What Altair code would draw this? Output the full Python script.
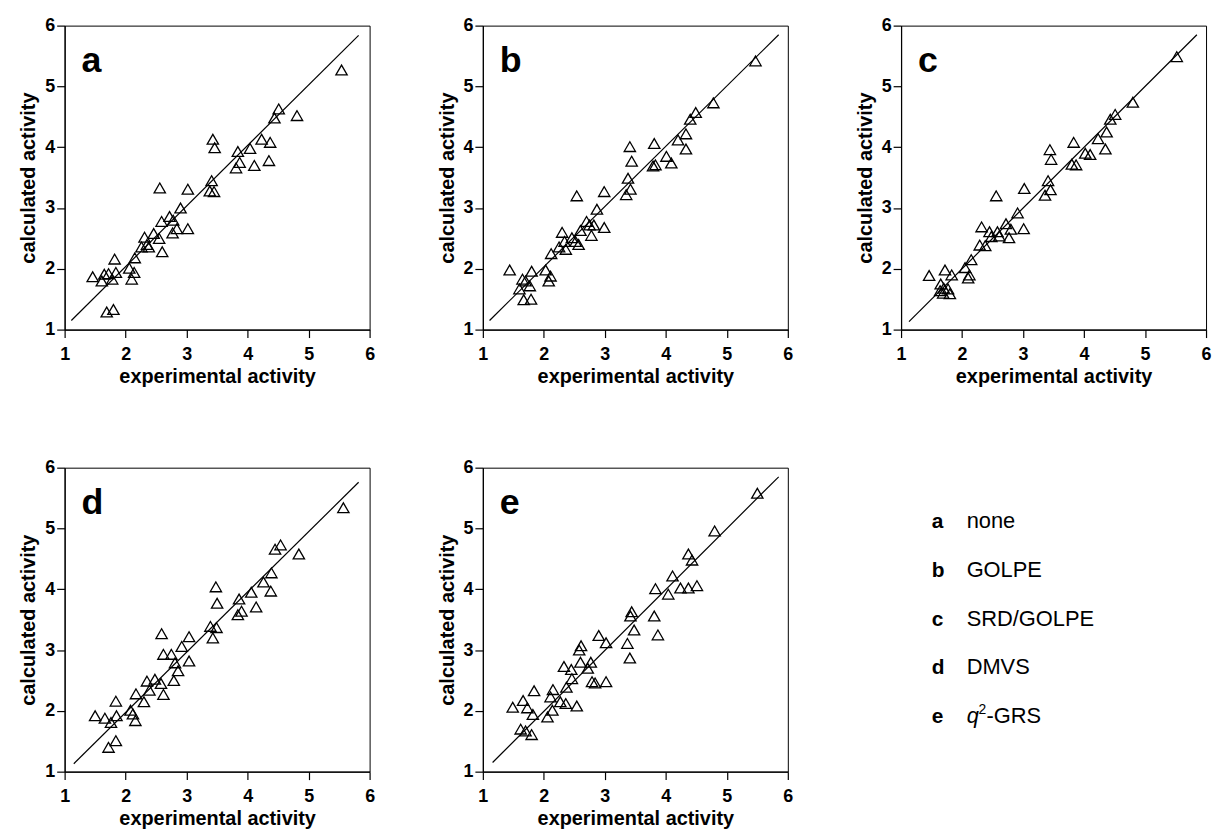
import altair as alt
import pandas as pd

FONT = "Liberation Sans"

# ---------------- data ----------------
panel_letters = ["a", "b", "c", "d", "e"]
legend_names = ["none", "GOLPE", "SRD/GOLPE", "DMVS"]
legend_e_parts = ["q", "2", "-GRS"]          # italic q, superscript 2, rest

tick_values = [1, 1.5, 2, 2.5, 3, 3.5, 4, 4.5, 5, 5.5, 6]

exp_a = [5.54, 4.51, 4.44, 4.81, 4.23, 4.37, 4.35, 4.04, 3.84, 3.87, 3.81, 4.11, 3.43, 3.46, 3.41,
         3.38, 3.45, 3.02, 2.56, 2.90, 2.72, 2.78, 2.59, 2.84, 2.77, 3.02, 2.46, 2.55, 2.31, 2.35,
         2.38, 2.26, 2.60, 2.15, 2.06, 2.14, 2.10, 1.82, 1.84, 1.72, 1.65, 1.78, 1.61, 1.46, 1.69, 1.80]
calc_a = [5.27, 4.63, 4.48, 4.52, 4.13, 4.08, 3.78, 3.98, 3.93, 3.75, 3.66, 3.70, 4.13, 3.99, 3.45,
          3.28, 3.27, 3.31, 3.33, 3.00, 2.86, 2.80, 2.78, 2.66, 2.59, 2.66, 2.58, 2.50, 2.52, 2.40,
          2.36, 2.36, 2.28, 2.18, 2.01, 1.94, 1.83, 2.16, 1.94, 1.92, 1.91, 1.83, 1.80, 1.87, 1.29, 1.33]

exp_b = [5.47, 4.78, 4.49, 4.40, 4.20, 4.33, 4.33, 4.01, 4.09, 3.81, 3.79, 3.83, 3.41, 3.44, 3.38,
         3.42, 3.35, 2.99, 2.54, 2.87, 2.70, 2.75, 2.82, 2.78, 2.99, 2.60, 2.30, 2.46, 2.34, 2.52,
         2.57, 2.25, 2.36, 2.12, 2.03, 2.11, 2.08, 1.44, 1.80, 1.65, 1.70, 1.77, 1.60, 1.67, 1.79]
calc_b = [5.42, 4.73, 4.57, 4.46, 4.12, 4.22, 3.97, 3.85, 3.74, 4.06, 3.69, 3.71, 4.01, 3.77, 3.49,
          3.31, 3.22, 3.27, 3.20, 2.98, 2.78, 2.72, 2.72, 2.55, 2.68, 2.63, 2.60, 2.51, 2.45, 2.45,
          2.40, 2.36, 2.32, 2.25, 1.98, 1.88, 1.80, 1.98, 1.96, 1.83, 1.80, 1.72, 1.67, 1.49, 1.50]

exp_c = [5.52, 4.80, 4.51, 4.43, 4.37, 4.23, 4.35, 4.02, 4.10, 3.83, 3.80, 3.87, 3.44, 3.46, 3.41,
         3.45, 3.36, 3.02, 2.56, 2.91, 2.72, 2.80, 3.01, 2.77, 2.58, 2.32, 2.45, 2.61, 2.29, 2.38,
         2.15, 2.05, 2.12, 2.10, 1.46, 1.72, 1.83, 1.65, 1.64, 1.69, 1.80, 1.77, 2.48, 1.70]
calc_c = [5.49, 4.74, 4.54, 4.46, 4.25, 4.14, 3.97, 3.90, 3.88, 4.08, 3.72, 3.71, 3.96, 3.80, 3.45,
          3.30, 3.21, 3.32, 3.20, 2.92, 2.74, 2.65, 2.66, 2.51, 2.61, 2.69, 2.61, 2.54, 2.39, 2.38,
          2.15, 2.02, 1.90, 1.85, 1.89, 1.98, 1.90, 1.75, 1.64, 1.60, 1.59, 1.67, 2.53, 1.68]

exp_d = [5.57, 4.54, 4.45, 4.84, 4.39, 4.26, 4.38, 4.06, 3.86, 4.14, 3.90, 3.84, 3.48, 3.50, 3.39,
         3.49, 3.43, 3.04, 2.59, 2.92, 2.62, 2.75, 2.81, 3.04, 2.86, 2.79, 2.35, 2.48, 2.58, 2.39,
         2.62, 2.17, 2.30, 2.08, 2.12, 2.16, 1.84, 1.50, 1.66, 1.76, 1.85, 1.72, 1.84]
calc_d = [5.34, 4.73, 4.66, 4.58, 4.27, 4.12, 3.97, 3.95, 3.84, 3.71, 3.64, 3.58, 4.04, 3.77, 3.39,
          3.37, 3.20, 3.22, 3.27, 3.06, 2.93, 2.93, 2.79, 2.82, 2.66, 2.50, 2.49, 2.52, 2.45, 2.34,
          2.27, 2.28, 2.15, 2.01, 1.95, 1.84, 2.16, 1.92, 1.88, 1.81, 1.92, 1.40, 1.51]

exp_e = [5.50, 4.80, 4.37, 4.43, 4.11, 3.83, 4.04, 4.24, 4.37, 4.51, 3.44, 3.42, 3.48, 3.81, 3.87,
         3.37, 3.41, 2.90, 3.02, 2.61, 2.58, 2.33, 2.45, 2.60, 2.77, 2.72, 2.46, 2.37, 2.79, 2.84,
         3.02, 2.15, 2.11, 2.27, 2.36, 2.54, 2.14, 2.06, 1.84, 1.49, 1.66, 1.73, 1.82, 1.62, 1.70, 1.80]
calc_e = [5.58, 4.96, 4.58, 4.48, 4.22, 4.01, 3.92, 4.02, 4.02, 4.06, 3.63, 3.56, 3.33, 3.56, 3.25,
          3.11, 2.87, 3.24, 3.12, 3.07, 3.00, 2.73, 2.68, 2.80, 2.80, 2.70, 2.53, 2.39, 2.48, 2.46,
          2.48, 2.35, 2.23, 2.15, 2.12, 2.08, 2.01, 1.90, 2.33, 2.06, 2.17, 2.05, 1.94, 1.70, 1.67, 1.61]

# fitted line end points (x0, y0, x1, y1) for each panel
line_a = [1.11, 1.15, 5.82, 5.84]
line_b = [1.11, 1.15, 5.85, 5.85]
line_c = [1.13, 1.13, 5.85, 5.85]
line_d = [1.15, 1.13, 5.82, 5.76]
line_e = [1.16, 1.15, 5.85, 5.85]

panels = [
    ("a", exp_a, calc_a, line_a),
    ("b", exp_b, calc_b, line_b),
    ("c", exp_c, calc_c, line_c),
    ("d", exp_d, calc_d, line_d),
    ("e", exp_e, calc_e, line_e),
]

W, H = 307, 306
label_expr = "datum.value % 1 === 0 ? format(datum.value, 'd') : ''"


def make_panel(letter, xs, ys, ln):
    df = pd.DataFrame({"exp": xs, "calc": ys})
    xenc = alt.X("exp:Q",
                 scale=alt.Scale(domain=[1, 6], nice=False, zero=False),
                 axis=alt.Axis(values=tick_values, labelExpr=label_expr,
                               title="experimental activity"))
    yenc = alt.Y("calc:Q",
                 scale=alt.Scale(domain=[1, 6], nice=False, zero=False),
                 axis=alt.Axis(values=tick_values, labelExpr=label_expr,
                               title="calculated activity"))
    pts = alt.Chart(df).mark_point(
        shape="triangle-up", filled=False, size=130, stroke="black",
        strokeWidth=1.3, opacity=1
    ).encode(x=xenc, y=yenc)
    line_df = pd.DataFrame({"exp": [ln[0], ln[2]], "calc": [ln[1], ln[3]]})
    line = alt.Chart(line_df).mark_line(color="black", strokeWidth=1.2).encode(
        x="exp:Q", y="calc:Q")
    lab = alt.Chart(pd.DataFrame({"t": [letter]})).mark_text(
        align="left", baseline="alphabetic", fontSize=36, fontWeight="bold",
        font=FONT, color="black"
    ).encode(text="t:N", x=alt.value(17), y=alt.value(47))
    return alt.layer(line, pts, lab).properties(width=W, height=H)


cells = [make_panel(*p) for p in panels]

# ---------------- legend cell ----------------
leg_df = pd.DataFrame({"letter": panel_letters,
                       "name": legend_names + [""]})
yleg = alt.Y("letter:N", axis=None,
             scale=alt.Scale(domain=panel_letters, range=[61, 257], padding=0))
leg_letters = alt.Chart(leg_df).mark_text(
    align="left", baseline="alphabetic", fontSize=21, fontWeight="bold",
    font=FONT, color="black").encode(text="letter:N", y=yleg, x=alt.value(31))
leg_names = alt.Chart(leg_df).mark_text(
    align="left", baseline="alphabetic", fontSize=22, font=FONT, color="black"
).encode(text="name:N", y=yleg, x=alt.value(66))

e_df = pd.DataFrame({"letter": ["e"], "q": [legend_e_parts[0]],
                     "sup": [legend_e_parts[1]], "rest": [legend_e_parts[2]]})
e_q = alt.Chart(e_df).mark_text(
    align="left", baseline="alphabetic", fontSize=22, font=FONT,
    fontStyle="italic", color="black").encode(text="q:N", y=yleg, x=alt.value(66))
e_sup = alt.Chart(e_df).mark_text(
    align="left", baseline="alphabetic", fontSize=14, font=FONT, color="black",
    dx=12, dy=-9).encode(text="sup:N", y=yleg, x=alt.value(66))
e_rest = alt.Chart(e_df).mark_text(
    align="left", baseline="alphabetic", fontSize=22, font=FONT, color="black",
    dx=20).encode(text="rest:N", y=yleg, x=alt.value(66))

legend = alt.layer(leg_letters, leg_names, e_q, e_sup, e_rest).properties(
    width=W, height=H, view=alt.ViewBackground(stroke="transparent"))

chart = alt.concat(
    *cells, legend, columns=3, bounds="flush",
    spacing={"row": 139, "column": 114},
    padding={"left": 10, "top": 5, "right": 0, "bottom": 0},
).configure_view(
    stroke="black", strokeWidth=1
).configure_axis(
    grid=False, domainColor="black", domainWidth=1.2, tickColor="black",
    tickWidth=1.2, tickSize=8, labelFont=FONT, labelFontSize=18,
    labelFontWeight="bold", labelColor="black", labelFlush=False,
    labelOverlap=False, titleFont=FONT, titleFontSize=20,
    titleFontWeight="bold", titleColor="black"
).configure_axisX(
    labelPadding=8, titlePadding=3
).configure_axisY(
    labelPadding=2, titlePadding=6
)

chart.save("out.html", embed_options={"renderer": "svg", "actions": False})
